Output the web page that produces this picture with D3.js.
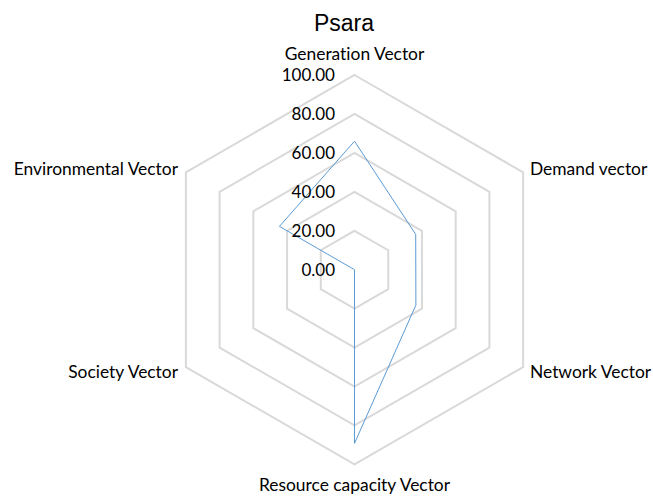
<!DOCTYPE html>
<html><head><meta charset="utf-8">
<script src="https://cdn.jsdelivr.net/npm/d3@7"></script>
<style>body{margin:0;background:#fff}svg{display:block}text{font-variant-ligatures:none;font-feature-settings:"liga" 0}</style>
</head><body>
<svg id="c" width="653" height="497"></svg>
<script>
const title = "Psara";
const categories = ["Generation Vector","Demand vector","Network Vector","Resource capacity Vector","Society Vector","Environmental Vector"];
const values = [66, 36.3, 36.4, 89.2, 0, 44.5];
const ticks = [0,20,40,60,80,100];
const tickLabels = ["0.00","20.00","40.00","60.00","80.00","100.00"];

const svg = d3.select("#c");
const cx = 354.5, cy = 269.7, R = 194.7;
const r = d3.scaleLinear().domain([0,100]).range([0,R]);
const n = categories.length;
const ang = i => i*2*Math.PI/n;
const pt = (i,v) => [cx + r(v)*Math.sin(ang(i)), cy - r(v)*Math.cos(ang(i))];
const font = "Lato, 'Open Sans', sans-serif";

// grid
ticks.filter(t=>t>0).forEach(t=>{
  svg.append("path")
    .attr("d", d3.line()(d3.range(n).map(i=>pt(i,t))) + "Z")
    .attr("fill","none").attr("stroke","#d9d9d9").attr("stroke-width",2);
});
// data
svg.append("path")
  .attr("d", d3.line()(values.map((v,i)=>pt(i,v))) + "Z")
  .attr("fill","none").attr("stroke","#5b9bd5").attr("stroke-width",1);

// tick labels
ticks.forEach((t,k)=>{
  svg.append("text").attr("x",335).attr("y",cy - r(t)).attr("dy","0.35em")
    .attr("text-anchor","end").attr("font-family",font).attr("font-size",17)
    .attr("fill","#000").text(tickLabels[k]);
});

// category labels
const lab = [
  {x:cx, y:60, a:"middle"},
  {x:530, y:175, a:"start"},
  {x:530, y:378, a:"start"},
  {x:cx, y:491, a:"middle"},
  {x:178, y:378, a:"end"},
  {x:178, y:175, a:"end"}
];
categories.forEach((c,i)=>{
  svg.append("text").attr("x",lab[i].x).attr("y",lab[i].y)
    .attr("text-anchor",lab[i].a).attr("font-family",font).attr("font-size",17.4)
    .attr("fill","#000").text(c);
});

svg.append("text").attr("x",344).attr("y",31).attr("text-anchor","middle")
  .attr("font-family","'Liberation Sans', Arial, sans-serif").attr("font-size",23)
  .attr("fill","#000").text(title);
</script>
</body></html>
